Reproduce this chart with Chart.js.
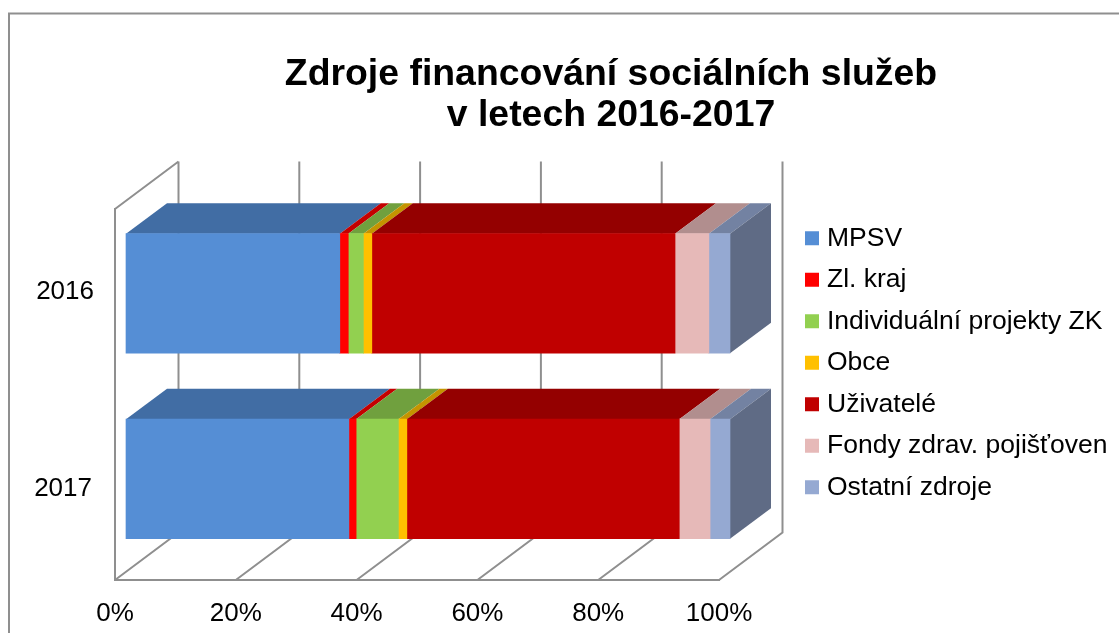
<!DOCTYPE html>
<html><head><meta charset="utf-8">
<style>html,body{margin:0;padding:0;background:#fff;overflow:hidden}canvas{display:block}</style>
<script src="https://cdn.jsdelivr.net/npm/chart.js@4/dist/chart.umd.min.js"></script>
</head><body><canvas id="c" width="1119" height="633"></canvas>
<script>
const categories = ["2016", "2017"];
const seriesNames = ["MPSV", "Zl. kraj", "Individuální projekty ZK", "Obce", "Uživatelé", "Fondy zdrav. pojišťoven", "Ostatní zdroje"];
const mpsv = [35.4, 36.9];
const zlKraj = [1.4, 1.2];
const individualni = [2.5, 7.0];
const obce = [1.4, 1.4];
const uzivatele = [50.2, 45.1];
const fondy = [5.6, 5.1];
const ostatni = [3.5, 3.3];
const seriesValues = [mpsv, zlKraj, individualni, obce, uzivatele, fondy, ostatni];
const seriesColors = ["#558ed5", "#ff0000", "#92d050", "#ffc000", "#c00000", "#e6b9b8", "#95a9d2"];
const titleLines = ["Zdroje financování sociálních služeb", "v letech 2016-2017"];

const FONT = '"Liberation Sans", Arial, sans-serif';
const LINE = "#8f8f8f";
const barShift = {x: 11, y: -8.3};
const barDepth = {x: 41, y: -30.5};
const wallDepth = {x: 63.5, y: -47.5};

function shade(hex, f) {
  const n = parseInt(hex.slice(1), 16);
  return "rgb(" + [(n >> 16) & 255, (n >> 8) & 255, n & 255].map(v => Math.round(v * f)).join(",") + ")";
}
function poly(ctx, pts, fill) {
  ctx.beginPath();
  pts.forEach((p, i) => i ? ctx.lineTo(p[0], p[1]) : ctx.moveTo(p[0], p[1]));
  ctx.closePath();
  ctx.fillStyle = fill;
  ctx.fill();
}

const pseudo3d = {
  id: "pseudo3d",
  afterLayout(chart) {
    const t = chart.titleBlock;
    t.left = 103; t.right = 1119; t.top = 54;
    const l = chart.legend;
    const h = l.height, w = l.width;
    l.left = 795.25; l.right = l.left + w; l.top = 210; l.bottom = l.top + h + 60;
  },
  beforeDraw(chart) {
    const ctx = chart.ctx;
    ctx.save();
    ctx.strokeStyle = LINE; ctx.lineWidth = 2;
    ctx.beginPath();
    ctx.moveTo(9, 633); ctx.lineTo(9, 13.5); ctx.lineTo(1119, 13.5);
    ctx.stroke();
    const xs = chart.scales.x, a = chart.chartArea;
    ctx.lineWidth = 2;
    ctx.beginPath();
    ctx.moveTo(a.left, a.top); ctx.lineTo(a.left + wallDepth.x, a.top + wallDepth.y);
    xs.ticks.forEach((tk, i) => {
      const px = xs.getPixelForTick(i);
      ctx.moveTo(px + wallDepth.x, a.top + wallDepth.y);
      ctx.lineTo(px + wallDepth.x, a.bottom + wallDepth.y);
      ctx.lineTo(px, a.bottom);
    });
    ctx.stroke();
    ctx.restore();
    const ys = chart.scales.y;
    const items = ys.getLabelItems(a);
    if (!items._nudged) {
      items._nudged = true;
      const dx = [5, 3], dy = [-10, 2];
      items.forEach((it, i) => { it.options.translation[0] += dx[i]; it.options.translation[1] += dy[i]; });
    }
  },
  beforeDatasetsDraw(chart) {
    const ctx = chart.ctx;
    ctx.save();
    ctx.translate(barShift.x, barShift.y);
    const n = chart.data.datasets.length;
    const dx = barDepth.x, dy = barDepth.y;
    for (let d = 0; d < n; d++) {
      const col = chart.data.datasets[d].backgroundColor;
      chart.getDatasetMeta(d).data.forEach(b => {
        const top = b.y - b.height / 2, bot = b.y + b.height / 2;
        poly(ctx, [[b.base, top], [b.x, top], [b.x + dx, top + dy], [b.base + dx, top + dy]], shade(col, 0.77));
        if (d === n - 1) {
          poly(ctx, [[b.x, top], [b.x + dx, top + dy], [b.x + dx, bot + dy], [b.x, bot]], shade(col, 0.635));
        }
      });
    }
  },
  afterDatasetsDraw(chart) { chart.ctx.restore(); }
};

new Chart(document.getElementById("c"), {
  type: "bar",
  data: {
    labels: categories,
    datasets: seriesNames.map((name, i) => ({
      label: name, data: seriesValues[i], backgroundColor: seriesColors[i],
      borderWidth: 0, barThickness: 119.5, clip: false
    }))
  },
  plugins: [pseudo3d],
  options: {
    indexAxis: "y",
    responsive: false,
    animation: false,
    layout: {padding: {left: 0, right: 400, top: 40, bottom: 0}},
    scales: {
      x: {
        stacked: true, min: 0, max: 100,
        grid: {display: false},
        border: {display: true, color: LINE, width: 2},
        ticks: {stepSize: 20, color: "#000", maxRotation: 0, autoSkip: false, padding: 10,
          font: {family: FONT, size: 26}, callback: v => v + "%"},
        afterFit(s) { s.height = 53; }
      },
      y: {
        stacked: true,
        grid: {display: false},
        border: {display: true, color: LINE, width: 2},
        ticks: {color: "#000", padding: 18, font: {family: FONT, size: 26}},
        afterFit(s) { s.width = 115; }
      }
    },
    plugins: {
      tooltip: {enabled: false},
      title: {
        display: true, text: titleLines, color: "#000",
        font: {family: FONT, size: 37.4, weight: "bold", lineHeight: 1.096},
        padding: {top: 0, bottom: 87}
      },
      legend: {
        display: true, position: "chartArea", align: "start",
        labels: {color: "#000", usePointStyle: true, pointStyle: "rect", boxWidth: 3.5, boxHeight: 14, padding: 15,
          font: {family: FONT, size: 26.5}}
      }
    }
  }
});
</script></body></html>
